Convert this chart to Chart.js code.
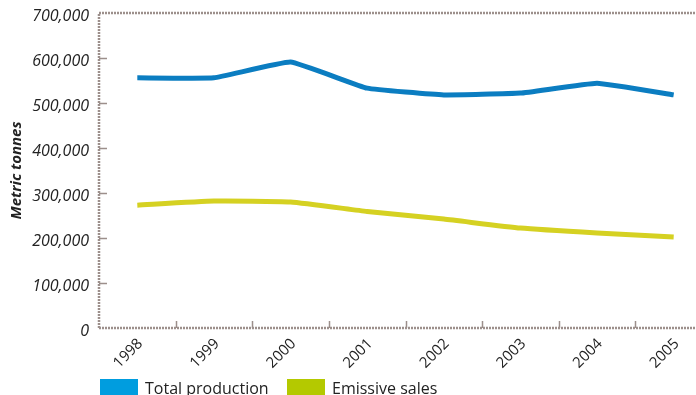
<!DOCTYPE html>
<html>
<head>
<meta charset="utf-8">
<script src="https://cdn.jsdelivr.net/npm/chart.js@4/dist/chart.umd.min.js"></script>
<style>
  html, body { margin: 0; padding: 0; background: #fff; overflow: hidden; }
  #wrap { position: relative; width: 712px; height: 400px; }
</style>
</head>
<body>
<div id="wrap"><canvas id="chart" width="712" height="400"></canvas></div>
<script>
// Annual tonnages
const years = ['1998', '1999', '2000', '2001', '2002', '2003', '2004', '2005'];
const totalProduction = [556000, 556000, 591000, 533000, 518000, 522000, 544000, 518000];
const emissiveSales = [273000, 282000, 280000, 259000, 242000, 222000, 211000, 202000];
const yTicks = [0, 100000, 200000, 300000, 400000, 500000, 600000, 700000];

const seriesNames = ['Total production', 'Emissive sales'];
const lineColors = ['#0b7dc1', '#d5d122'];
const keyColors = ['#009ddf', '#b4c900'];

const AXIS_COLOR = '#9c8f8b';
const FONT = '"Open Sans", "Noto Sans", sans-serif';

// Dotted frame, inward tick marks and the bottom key
const framePlugin = {
  id: 'frame',
  beforeDatasetsDraw(chart) {
    const { ctx, chartArea: a, scales } = chart;
    ctx.save();
    ctx.strokeStyle = AXIS_COLOR;
    ctx.lineWidth = 2.5;
    ctx.setLineDash([2, 1]);
    ctx.beginPath();
    ctx.moveTo(a.left, a.bottom);
    ctx.lineTo(a.left, a.top);
    ctx.lineTo(a.right, a.top);
    ctx.moveTo(a.left, a.bottom);
    ctx.lineTo(a.right, a.bottom);
    ctx.stroke();
    ctx.setLineDash([]);
    ctx.lineWidth = 1.5;
    ctx.beginPath();
    // y ticks pointing into the plot
    yTicks.slice(1, -1).forEach(v => {
      const y = Math.round(scales.y.getPixelForValue(v)) + 0.5;
      ctx.moveTo(a.left, y);
      ctx.lineTo(a.left + 8, y);
    });
    // x ticks on category boundaries
    for (let i = 1; i < years.length; i++) {
      const x = Math.round((scales.x.getPixelForValue(i - 1) + scales.x.getPixelForValue(i)) / 2) + 0.5;
      ctx.moveTo(x, a.bottom);
      ctx.lineTo(x, a.bottom - 7);
    }
    ctx.stroke();
    ctx.restore();
  },
  afterDraw(chart) {
    const { ctx } = chart;
    ctx.save();
    ctx.font = '16px ' + FONT;
    ctx.textBaseline = 'alphabetic';
    let x = 100;
    seriesNames.forEach((name, i) => {
      ctx.fillStyle = keyColors[i];
      ctx.fillRect(x, 379, 38, 16);
      ctx.fillStyle = '#222';
      ctx.fillText(name, x + 45, 394);
      x += 187;
    });
    ctx.restore();
  }
};

new Chart(document.getElementById('chart'), {
  type: 'line',
  data: {
    labels: years,
    datasets: [
      {
        label: seriesNames[0],
        data: totalProduction,
        borderColor: lineColors[0],
        borderWidth: 5,
        tension: 0.1,
        pointRadius: 0,
        fill: false
      },
      {
        label: seriesNames[1],
        data: emissiveSales,
        borderColor: lineColors[1],
        borderWidth: 5,
        tension: 0.15,
        pointRadius: 0,
        fill: false
      }
    ]
  },
  options: {
    responsive: false,
    animation: false,
    devicePixelRatio: 1,
    layout: { padding: { top: 13, right: 0, bottom: 28, left: 0 } },
    plugins: { legend: { display: false }, tooltip: { enabled: false } },
    scales: {
      x: {
        offset: true,
        grid: { display: false, drawTicks: false },
        border: { display: false },
        ticks: {
          minRotation: 45,
          maxRotation: 45,
          padding: 7,
          labelOffset: 3,
          color: '#222',
          font: { family: FONT, size: 15 }
        },
        afterFit(scale) { scale.height = 44; }
      },
      y: {
        min: 0,
        max: 700000,
        grid: { display: false, drawTicks: false },
        border: { display: false },
        afterBuildTicks(scale) { scale.ticks = yTicks.map(v => ({ value: v })); },
        ticks: {
          padding: 10,
          labelOffset: 3,
          color: '#222',
          font: { family: FONT, size: 16, style: 'italic' },
          callback: v => v.toLocaleString('en-US')
        },
        title: {
          display: true,
          text: 'Metric tonnes',
          color: '#222',
          padding: { top: 8, bottom: 0 },
          font: { family: FONT, size: 15, style: 'italic', weight: 'bold' }
        },
        afterFit(scale) {
          scale.width = 99;
          scale.paddingTop = 0;
          scale.paddingBottom = 0;
        }
      }
    }
  },
  plugins: [framePlugin]
});
</script>
</body>
</html>
